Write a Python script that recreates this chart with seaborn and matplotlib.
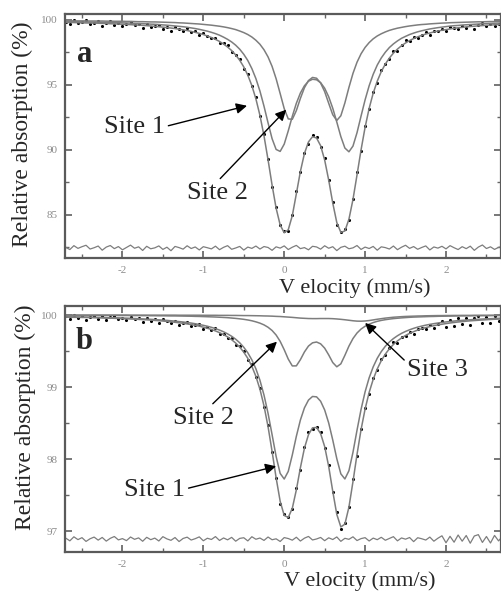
import numpy as np
import pandas as pd
import matplotlib
matplotlib.use("Agg")
import matplotlib.pyplot as plt
import seaborn as sns
from matplotlib.ticker import MultipleLocator

# Doppler velocity of each channel (mm/s)
velocity = [-2.70, -2.65, -2.60, -2.55, -2.50, -2.45, -2.40, -2.35, -2.30, -2.25,
            -2.20, -2.15, -2.10, -2.05, -2.00, -1.95, -1.90, -1.85, -1.80, -1.75,
            -1.70, -1.65, -1.60, -1.55, -1.50, -1.45, -1.40, -1.35, -1.30, -1.25,
            -1.20, -1.15, -1.10, -1.05, -1.00, -0.95, -0.90, -0.85, -0.80, -0.75,
            -0.70, -0.65, -0.60, -0.55, -0.50, -0.45, -0.40, -0.35, -0.30, -0.25,
            -0.20, -0.15, -0.10, -0.05, 0.00, 0.05, 0.10, 0.15, 0.20, 0.25,
            0.30, 0.35, 0.40, 0.45, 0.50, 0.55, 0.60, 0.65, 0.70, 0.75,
            0.80, 0.85, 0.90, 0.95, 1.00, 1.05, 1.10, 1.15, 1.20, 1.25,
            1.30, 1.35, 1.40, 1.45, 1.50, 1.55, 1.60, 1.65, 1.70, 1.75,
            1.80, 1.85, 1.90, 1.95, 2.00, 2.05, 2.10, 2.15, 2.20, 2.25,
            2.30, 2.35, 2.40, 2.45, 2.50, 2.55, 2.60, 2.65, 2.70]

# panel a: absorption below the 100 % line, in units of 0.01 %
site1_a = [13, 13, 14, 14, 15, 15, 16, 16, 17, 18,
           19, 19, 20, 21, 22, 23, 24, 26, 27, 28,
           30, 32, 33, 35, 38, 40, 43, 46, 49, 52,
           56, 61, 66, 72, 79, 86, 95, 105, 117, 132,
           149, 169, 194, 225, 264, 312, 374, 451, 547, 663,
           791, 913, 996, 1011, 955, 853, 741, 641, 562, 506,
           471, 456, 460, 482, 525, 591, 679, 785, 897, 985,
           1014, 970, 867, 739, 614, 506, 418, 347, 292, 248,
           212, 184, 161, 141, 126, 112, 101, 91, 83, 76,
           69, 64, 59, 55, 51, 47, 44, 42, 39, 37,
           35, 33, 31, 29, 28, 26, 25, 24, 23]
site2_a = [6, 6, 7, 7, 7, 7, 8, 8, 8, 8,
           9, 9, 10, 10, 10, 11, 11, 12, 13, 13,
           14, 15, 15, 16, 17, 18, 19, 20, 22, 23,
           25, 27, 29, 31, 34, 37, 40, 44, 48, 53,
           59, 66, 74, 85, 97, 112, 131, 156, 187, 229,
           284, 357, 452, 566, 682, 761, 764, 697, 603, 521,
           466, 442, 448, 485, 551, 641, 729, 773, 737, 638,
           519, 411, 325, 260, 211, 174, 145, 123, 106, 92,
           80, 71, 63, 57, 51, 46, 42, 38, 35, 33,
           30, 28, 26, 24, 23, 21, 20, 19, 18, 17,
           16, 15, 14, 14, 13, 12, 12, 11, 11]
fit_a = [19, 19, 20, 21, 22, 23, 23, 24, 25, 26,
         27, 29, 30, 31, 33, 34, 36, 38, 39, 41,
         44, 46, 49, 52, 55, 58, 62, 66, 71, 76,
         81, 88, 95, 103, 112, 123, 135, 149, 165, 185,
         208, 235, 269, 310, 361, 425, 505, 607, 734, 891,
         1075, 1270, 1448, 1577, 1637, 1614, 1505, 1337, 1165, 1027,
         938, 898, 908, 967, 1077, 1232, 1408, 1558, 1634, 1623,
         1533, 1381, 1192, 999, 825, 680, 563, 471, 397, 339,
         293, 255, 224, 198, 177, 158, 143, 130, 118, 108,
         100, 92, 85, 79, 74, 69, 64, 60, 57, 53,
         50, 48, 45, 43, 41, 39, 37, 35, 33]
# residual (data - fit) in %
resid_a = [0.05, -0.12, 0.18, -0.03, 0.10, 0.21, -0.08, 0.02, 0.15, -0.17,
           0.07, 0.19, -0.05, 0.11, -0.14, 0.04, 0.22, -0.02, 0.09, -0.19,
           0.13, -0.06, 0.01, 0.16, -0.11, 0.06, -0.21, 0.12, 0.03, -0.09,
           0.17, -0.04, 0.08, -0.15, 0.10, 0.02, -0.07, 0.14, -0.13, 0.05,
           0.18, -0.10, 0.00, 0.12, -0.16, 0.07, -0.03, 0.15, -0.08, 0.11,
           0.04, -0.18, 0.09, -0.01, 0.16, -0.12, 0.06, 0.20, -0.05, 0.03,
           -0.14, 0.13, 0.08, -0.09, 0.17, -0.02, 0.10, -0.20, 0.05, 0.14,
           -0.06, 0.01, 0.19, -0.11, 0.07, -0.04, 0.12, -0.17, 0.09, 0.03,
           -0.08, 0.15, -0.13, 0.06, 0.21, -0.03, 0.11, -0.10, 0.04, 0.16,
           -0.15, 0.08, -0.01, 0.13, -0.07, 0.18, 0.02, -0.12, 0.10, -0.05,
           0.14, -0.18, 0.07, 0.23, -0.04, 0.09, -0.11, 0.05, 0.12]

# panel b: absorption below the 100 % line, in units of 0.001 %
site1_b = [25, 25, 26, 27, 28, 29, 30, 32, 33, 34,
           36, 37, 39, 40, 42, 44, 46, 49, 51, 54,
           57, 60, 63, 67, 71, 75, 80, 85, 91, 97,
           104, 112, 121, 132, 143, 156, 171, 189, 209, 233,
           262, 295, 336, 386, 448, 525, 623, 747, 907, 1111,
           1364, 1661, 1964, 2199, 2277, 2171, 1943, 1684, 1458, 1289,
           1181, 1131, 1136, 1197, 1318, 1499, 1735, 1994, 2205, 2276,
           2162, 1906, 1599, 1310, 1066, 872, 720, 601, 508, 434,
           375, 327, 288, 255, 228, 205, 185, 168, 154, 141,
           130, 120, 111, 103, 96, 90, 84, 79, 74, 70,
           66, 62, 59, 56, 53, 51, 48, 46, 44]
site2_b = [4, 4, 4, 5, 5, 5, 5, 5, 5, 6,
           6, 6, 6, 7, 7, 7, 8, 8, 8, 9,
           9, 10, 10, 11, 11, 12, 13, 13, 14, 15,
           16, 17, 19, 20, 22, 24, 26, 28, 31, 34,
           37, 42, 47, 53, 60, 69, 80, 95, 113, 137,
           170, 215, 278, 366, 482, 612, 707, 706, 620, 513,
           431, 386, 375, 400, 460, 554, 660, 719, 678, 560,
           432, 327, 250, 195, 156, 127, 105, 88, 75, 65,
           57, 50, 45, 40, 36, 32, 29, 27, 25, 23,
           21, 20, 18, 17, 16, 15, 14, 13, 12, 12,
           11, 10, 10, 9, 9, 9, 8, 8, 7]
site3_b = [1, 1, 1, 1, 1, 1, 1, 1, 1, 1,
           1, 1, 1, 1, 1, 1, 2, 2, 2, 2,
           2, 2, 2, 2, 2, 2, 2, 2, 3, 3,
           3, 3, 3, 3, 4, 4, 4, 4, 5, 5,
           5, 6, 6, 7, 8, 8, 9, 10, 11, 13,
           14, 16, 19, 21, 25, 29, 33, 38, 43, 46,
           49, 50, 50, 49, 49, 49, 51, 55, 60, 66,
           73, 80, 85, 86, 83, 77, 68, 59, 51, 43,
           37, 31, 27, 23, 20, 18, 16, 14, 13, 11,
           10, 9, 8, 8, 7, 7, 6, 6, 5, 5,
           5, 4, 4, 4, 4, 3, 3, 3, 3]
fit_b = [29, 31, 32, 33, 34, 35, 36, 38, 39, 41,
         43, 44, 46, 48, 51, 53, 55, 58, 61, 64,
         67, 71, 75, 79, 84, 89, 95, 101, 108, 115,
         124, 133, 143, 155, 169, 184, 201, 221, 245, 272,
         304, 343, 389, 446, 516, 602, 712, 852, 1031, 1261,
         1549, 1893, 2261, 2586, 2783, 2811, 2683, 2428, 2120, 1848,
         1661, 1566, 1561, 1646, 1826, 2103, 2447, 2768, 2942, 2903,
         2667, 2314, 1935, 1591, 1305, 1075, 893, 749, 634, 543,
         469, 409, 360, 319, 284, 255, 231, 209, 191, 175,
         161, 148, 137, 128, 119, 111, 104, 97, 92, 86,
         81, 77, 73, 69, 66, 62, 59, 57, 54]
resid_b = [0.012, -0.025, 0.031, -0.008, 0.019, -0.033, 0.004, 0.027, -0.015, 0.022,
           -0.029, 0.010, 0.035, -0.012, 0.006, -0.022, 0.028, -0.004, 0.016, -0.031,
           0.024, -0.009, 0.013, -0.027, 0.033, 0.002, -0.018, 0.021, -0.035, 0.008,
           0.026, -0.014, 0.005, 0.030, -0.024, 0.011, -0.006, 0.034, -0.020, 0.015,
           -0.011, 0.023, -0.030, 0.009, 0.018, -0.026, 0.032, -0.003, 0.014, -0.019,
           0.028, -0.010, 0.003, -0.034, 0.020, 0.007, -0.016, 0.025, -0.028, 0.012,
           0.036, -0.013, 0.001, 0.022, -0.023, 0.017, -0.007, 0.029, -0.032, 0.010,
           -0.004, 0.031, -0.021, 0.006, 0.019, -0.027, 0.013, -0.009, 0.024, -0.017,
           0.008, 0.033, -0.025, 0.015, -0.002, 0.021, -0.036, 0.018, 0.004, -0.014,
           0.027, -0.030, 0.011, 0.045, -0.052, 0.038, -0.044, 0.056, -0.030, 0.049,
           -0.058, 0.042, 0.061, -0.047, 0.035, -0.055, 0.050, -0.026, 0.040]

GREY = "#7d7d7d"


def draw_panel(ax, sites, fit, resid, unit, res_level):
    """Sub-spectra, total fit, data points and the shifted residual."""
    v = np.asarray(velocity)
    fit_pct = 100 - np.asarray(fit) / unit
    df = pd.DataFrame({"v": v, "fit": fit_pct,
                       "data": fit_pct + np.asarray(resid),
                       "res": res_level + np.asarray(resid)})
    sns.lineplot(data=df, x="v", y="res", ax=ax, color=GREY, lw=0.9)
    for s in sites:
        sns.lineplot(x=v, y=100 - np.asarray(s) / unit, ax=ax, color=GREY, lw=1.1)
    sns.lineplot(data=df, x="v", y="fit", ax=ax, color=GREY, lw=1.1)
    sns.scatterplot(data=df, x="v", y="data", ax=ax, color="black", s=5, linewidth=0)


def style_axes(ax, ylim, ymajor, yminor):
    ax.set_xlim(-2.71, 2.68)
    ax.set_ylim(*ylim)
    ax.xaxis.set_major_locator(MultipleLocator(1))
    ax.xaxis.set_minor_locator(MultipleLocator(0.5))
    ax.yaxis.set_major_locator(MultipleLocator(ymajor))
    ax.yaxis.set_minor_locator(MultipleLocator(yminor))
    ax.tick_params(which="both", direction="in", top=True, right=True,
                   color="#666666", labelcolor="#8c8c8c", labelsize=8)
    ax.tick_params(which="major", length=5)
    ax.tick_params(which="minor", length=3)
    ax.tick_params(axis="x", pad=6)
    ax.tick_params(axis="y", pad=5)
    for sp in ax.spines.values():
        sp.set_color("#5a5a5a")
        sp.set_linewidth(1.6)
    ax.set_xlabel("")
    ax.set_ylabel("")


sns.set_theme(style="ticks")
plt.rcParams["font.family"] = ["Liberation Serif", "DejaVu Serif"]
plt.rcParams["axes.unicode_minus"] = False

fig = plt.figure(figsize=(5.02, 5.92), dpi=100)
ax_a = fig.add_axes([65 / 502, 1 - 258 / 592, 436 / 502, 244 / 592])
ax_b = fig.add_axes([65 / 502, 1 - 552 / 592, 436 / 502, 246 / 592])

draw_panel(ax_a, [site1_a, site2_a], fit_a, resid_a, 100, 82.46)
draw_panel(ax_b, [site1_b, site2_b, site3_b], fit_b, resid_b, 1000, 96.89)
style_axes(ax_a, (81.69, 100.46), 5, 2.5)
style_axes(ax_b, (96.71, 100.125), 1, 0.5)

ax_a.text(0.046, 0.836, "a", transform=ax_a.transAxes, fontsize=22,
          fontweight="bold", ha="center", va="center")
ax_b.text(0.044, 0.854, "b", transform=ax_b.transAxes, fontsize=22,
          fontweight="bold", ha="center", va="center")

arrow = dict(arrowstyle="-|>", color="black", lw=1.0, mutation_scale=16,
             shrinkA=0, shrinkB=0)
ax_a.annotate("Site 1", xy=(-0.46, 93.4), xytext=(-1.85, 91.8), fontsize=19,
              ha="center", va="center", arrowprops=dict(arrow, relpos=(1, 0.5)))
ax_a.annotate("Site 2", xy=(0.025, 93.1), xytext=(-0.83, 86.7), fontsize=19,
              ha="center", va="center", arrowprops=dict(arrow, relpos=(0.5, 1)))
ax_b.annotate("Site 2", xy=(-0.09, 99.63), xytext=(-1.0, 98.57), fontsize=19,
              ha="center", va="center", arrowprops=dict(arrow, relpos=(0.6, 1)))
ax_b.annotate("Site 1", xy=(-0.1, 97.9), xytext=(-1.6, 97.57), fontsize=19,
              ha="center", va="center", arrowprops=dict(arrow, relpos=(1, 0.55)))
ax_b.annotate("Site 3", xy=(1.0, 99.89), xytext=(1.9, 99.24), fontsize=19,
              ha="center", va="center", arrowprops=dict(arrow, relpos=(0, 0.8)))

fig.text(355 / 502, 1 - 288 / 592, "V elocity (mm/s)", fontsize=16,
         ha="center", va="center")
fig.text(360 / 502, 1 - 581 / 592, "V elocity (mm/s)", fontsize=16,
         ha="center", va="center")
fig.text(22 / 502, 1 - 134 / 592, "Relative absorption (%)", fontsize=17,
         rotation=90, ha="center", va="center")
fig.text(25 / 502, 1 - 417 / 592, "Relative absorption (%)", fontsize=17,
         rotation=90, ha="center", va="center")

fig.savefig("out.png", dpi=100)
